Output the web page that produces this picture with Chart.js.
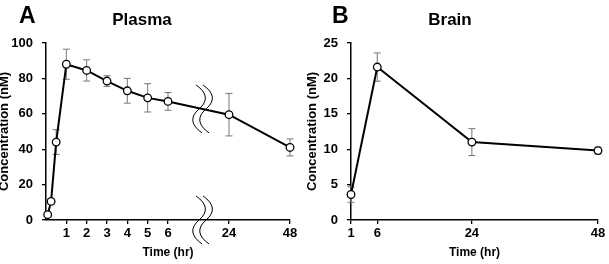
<!DOCTYPE html>
<html>
<head>
<meta charset="utf-8">
<script src="https://cdn.jsdelivr.net/npm/chart.js@4.4.1/dist/chart.umd.min.js"></script>
<style>
  html, body { margin: 0; padding: 0; background: #fff; }
  #wrap { position: relative; width: 609px; height: 264px; }
  #plasmaChart { position: absolute; left: 0; top: 0; }
  #brainChart { position: absolute; left: 305px; top: 0; }
</style>
</head>
<body>
<div id="wrap">
  <canvas id="plasmaChart" width="305" height="264"></canvas>
  <canvas id="brainChart" width="304" height="264"></canvas>
</div>
<script>
// Plasma (panel A)
const plasmaTimes = [0.083, 0.25, 0.5, 1, 2, 3, 4, 5, 6, 24, 48];
const plasmaMean = [3, 10.5, 44, 88, 84.5, 78.5, 73, 69, 67, 59.5, 41];
const plasmaSd = [1, 1.5, 7, 8.5, 6, 3, 7, 8, 5, 12, 4.8];
const plasmaTicks = [1, 2, 3, 4, 5, 6, 24, 48];
const plasmaYTicks = [0, 20, 40, 60, 80, 100];

// Brain (panel B)
const brainTimes = [1, 6, 24, 48];
const brainMean = [3.6, 21.6, 11, 9.8];
const brainSd = [1.1, 2, 1.9, 0.5];
const brainTicks = [1, 6, 24, 48];
const brainYTicks = [0, 5, 10, 15, 20, 25];

const FONT = '"Liberation Sans", Arial, sans-serif';

// broken time axis: 0-6 hr linear, then 24 and 48 hr squeezed in
function pos(t) {
    return t <= 6 ? t : 9 + (t - 24) / 8;
}

// error bars + labels + axis break, all through the chart scales
function decorPlugin(opts) {
    return {
        id: 'decor',
        beforeDatasetsDraw(chart) {
            const ctx = chart.ctx;
            const xs = chart.scales.x, ys = chart.scales.y;
            const pts = chart.data.datasets[0].data;
            ctx.save();
            ctx.strokeStyle = '#777';
            ctx.lineWidth = 1;
            pts.forEach((p, i) => {
                const x = xs.getPixelForValue(p.x);
                const y1 = ys.getPixelForValue(p.y + opts.sd[i]);
                const y2 = ys.getPixelForValue(p.y - opts.sd[i]);
                ctx.beginPath();
                ctx.moveTo(x, y1); ctx.lineTo(x, y2);
                ctx.moveTo(x - 3.5, y1); ctx.lineTo(x + 3.5, y1);
                ctx.moveTo(x - 3.5, y2); ctx.lineTo(x + 3.5, y2);
                ctx.stroke();
            });
            ctx.restore();
        },
        afterDraw(chart) {
            const ctx = chart.ctx;
            const xs = chart.scales.x, ys = chart.scales.y;
            ctx.save();
            ctx.fillStyle = '#000';
            ctx.textBaseline = 'alphabetic';
            ctx.textAlign = 'left';
            ctx.font = 'bold 23px ' + FONT;
            ctx.fillText(opts.letter, opts.letterX, 23);
            ctx.textAlign = 'center';
            ctx.font = 'bold 17px ' + FONT;
            ctx.fillText(opts.title, opts.titleX, 25);

            if (opts.breakAt !== undefined) {
                const bx = xs.getPixelForValue(opts.breakAt);
                // y of the line at the break
                const pts = chart.data.datasets[0].data;
                let by = ys.bottom;
                for (let i = 1; i < pts.length; i++) {
                    if (pts[i].x >= opts.breakAt) {
                        const a = pts[i - 1], b = pts[i];
                        const f = (opts.breakAt - a.x) / (b.x - a.x);
                        by = ys.getPixelForValue(a.y + f * (b.y - a.y));
                        break;
                    }
                }
                ctx.strokeStyle = '#000';
                ctx.lineWidth = 1;
                [by, ys.bottom].forEach(cy => {
                    [-3.5, 3.5].forEach(dx => {
                        const cx = bx + dx;
                        ctx.beginPath();
                        ctx.moveTo(cx - 3, cy - 24);
                        ctx.quadraticCurveTo(cx + 14, cy - 12, cx, cy);
                        ctx.quadraticCurveTo(cx - 14, cy + 12, cx + 3, cy + 24);
                        ctx.stroke();
                    });
                });
            }
            ctx.restore();
        }
    };
}

function makeChart(id, cfg) {
    const data = cfg.times.map((t, i) => ({ x: cfg.xpos(t), y: cfg.mean[i] }));
    return new Chart(document.getElementById(id), {
        type: 'line',
        data: {
            datasets: [{
                data: data,
                borderColor: '#000',
                borderWidth: 2,
                pointBackgroundColor: '#fff',
                pointBorderColor: '#000',
                pointBorderWidth: 1.3,
                pointRadius: 3.8,
                tension: 0,
                clip: false
            }]
        },
        options: {
            responsive: false,
            animation: false,
            layout: { padding: { top: 43, right: cfg.padRight, bottom: 4, left: 0 } },
            plugins: { legend: { display: false }, tooltip: { enabled: false } },
            scales: {
                x: {
                    type: 'linear',
                    min: cfg.xmin,
                    max: cfg.xmax,
                    afterBuildTicks: s => { s.ticks = cfg.xticks.map(t => ({ value: cfg.xpos(t) })); },
                    afterFit: s => { s.height = 40; },
                    ticks: {
                        callback: (v, i) => cfg.xticks[i],
                        color: '#000',
                        font: { family: FONT, size: 13, weight: 'bold' },
                        padding: 2,
                        maxRotation: 0,
                        autoSkip: false
                    },
                    grid: { drawOnChartArea: false, drawTicks: true, tickLength: 4, color: '#000', lineWidth: 1.3 },
                    border: { color: '#000', width: 1.5 },
                    title: {
                        display: true,
                        text: 'Time (hr)',
                        color: '#000',
                        font: { family: FONT, size: 12, weight: 'bold' },
                        padding: { top: 0, bottom: 0 }
                    }
                },
                y: {
                    min: cfg.yticks[0],
                    max: cfg.yticks[cfg.yticks.length - 1],
                    afterBuildTicks: s => { s.ticks = cfg.yticks.map(v => ({ value: v })); },
                    afterFit: s => { s.width = 46; },
                    ticks: {
                        color: '#000',
                        font: { family: FONT, size: 13, weight: 'bold' },
                        padding: 9
                    },
                    grid: { drawOnChartArea: false, drawTicks: true, tickLength: 4, color: '#000', lineWidth: 1.3 },
                    border: { color: '#000', width: 1.5 },
                    title: {
                        display: true,
                        text: 'Concentration (nM)',
                        color: '#000',
                        font: { family: FONT, size: 13, weight: 'bold' },
                        padding: { top: cfg.yTitlePad, bottom: 0 }
                    }
                }
            }
        },
        plugins: [decorPlugin(cfg.decor)]
    });
}

makeChart('plasmaChart', {
    times: plasmaTimes, mean: plasmaMean, xpos: pos,
    xmin: 0, xmax: 12, xticks: plasmaTicks, yticks: plasmaYTicks, padRight: 15, yTitlePad: -3,
    decor: { sd: plasmaSd, letter: 'A', letterX: 19, title: 'Plasma', titleX: 142, breakAt: 7.7 }
});

makeChart('brainChart', {
    times: brainTimes, mean: brainMean, xpos: t => t,
    xmin: 1, xmax: 48, xticks: brainTicks, yticks: brainYTicks, padRight: 11, yTitlePad: 0,
    decor: { sd: brainSd, letter: 'B', letterX: 27, title: 'Brain', titleX: 145 }
});
</script>
</body>
</html>
